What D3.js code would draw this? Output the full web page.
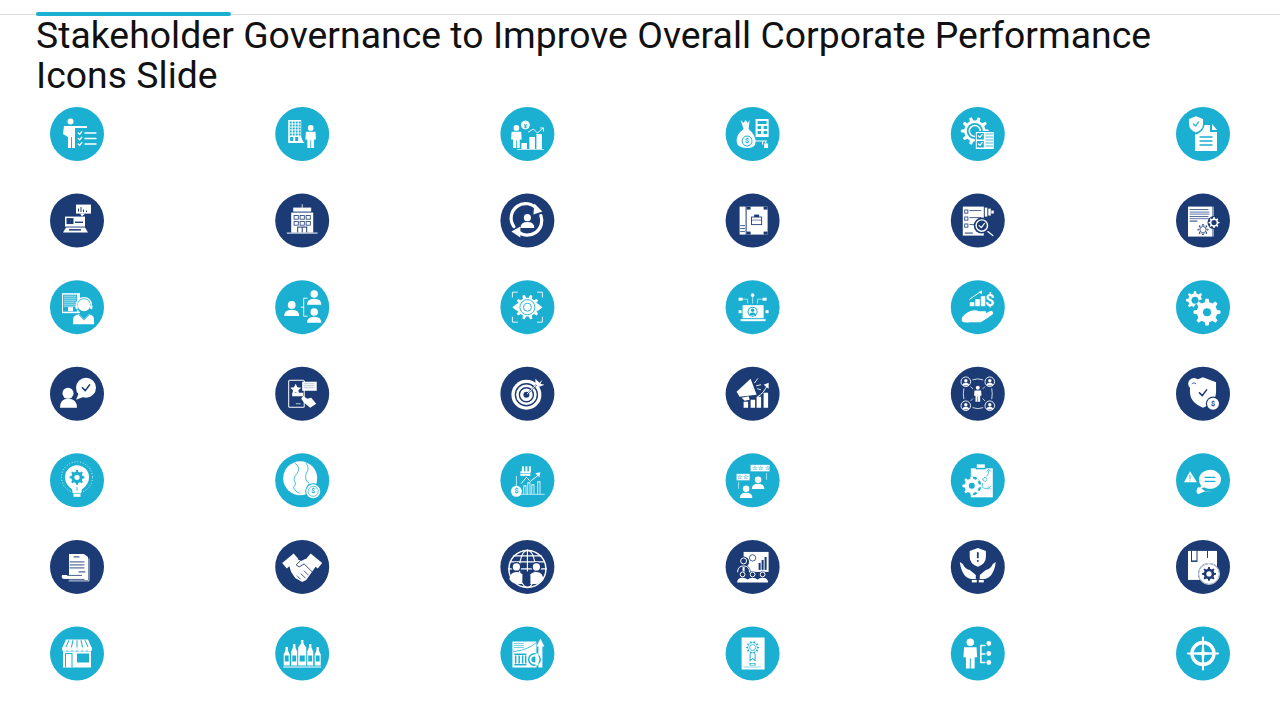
<!DOCTYPE html>
<html>
<head>
<meta charset="utf-8">
<script src="https://cdn.jsdelivr.net/npm/d3@7"></script>
<style>
  html, body { margin: 0; background: #fff; }
  svg { display: block; }
</style>
</head>
<body>
<svg id="slide" width="1280" height="720"></svg>
<script>
// Slide text and grid contents
const titleLines = [
  'Stakeholder Governance to Improve Overall Corporate Performance',
  'Icons Slide'
];
const columns = [0, 1, 2, 3, 4, 5];
const rows = [0, 1, 2, 3, 4, 5, 6];
const rowTones = ['light', 'dark', 'light', 'dark', 'light', 'dark', 'light'];
const iconRows = [
  ['presenter', 'officeWorker', 'yenGrowth', 'moneyKey', 'gearChecklist', 'shieldDoc'],
  ['laptopChart', 'building', 'userCycle', 'caseBook', 'docSearch', 'docGears'],
  ['headsetAgent', 'orgChart', 'gearEye', 'laptopNodes', 'handGrowth', 'twoGears'],
  ['userChat', 'phoneReview', 'target', 'megaphone', 'peopleRing', 'shieldCoin'],
  ['bulbGear', 'earthCoin', 'factoryChart', 'ratedUsers', 'clipboardPlan', 'warnChat'],
  ['scrollDoc', 'handshake', 'globePeople', 'boardTalk', 'handsShield', 'boxGear'],
  ['shop', 'bottles', 'boardArrow', 'certificate', 'personTree', 'crosshair']
];

const W = '#fff';
const tones = { light: '#1bafd2', dark: '#1c3b74' };

const x = d3.scalePoint().domain(columns).range([77, 1203]);
const y = d3.scalePoint().domain(rows).range([134, 653.5]);

// Small drawing helpers, icon coords are relative to the circle centre
const rect = (g, x0, y0, w, h, f = W, rx = 0) => g.append('rect')
  .attr('x', x0).attr('y', y0).attr('width', w).attr('height', h).attr('rx', rx).attr('fill', f);
const dot = (g, cx, cy, r, f = W) => g.append('circle')
  .attr('cx', cx).attr('cy', cy).attr('r', r).attr('fill', f);
const ring = (g, cx, cy, r, sw = 1, s = W, dash = null) => g.append('circle')
  .attr('cx', cx).attr('cy', cy).attr('r', r).attr('fill', 'none')
  .attr('stroke', s).attr('stroke-width', sw).attr('stroke-dasharray', dash);
const fillP = (g, d, f = W) => g.append('path').attr('d', d).attr('fill', f);
const lineP = (g, d, sw = 1.2, s = W) => g.append('path').attr('d', d).attr('fill', 'none')
  .attr('stroke', s).attr('stroke-width', sw).attr('stroke-linecap', 'round').attr('stroke-linejoin', 'round');
const label = (g, cx, cy, txt, size, f = W) => g.append('text')
  .attr('x', cx).attr('y', cy).attr('text-anchor', 'middle').attr('dominant-baseline', 'central')
  .attr('font-family', 'Roboto').attr('font-weight', 700).attr('font-size', size).attr('fill', f).text(txt);

function gear(g, cx, cy, r, f = W, hole = r * 0.4, holeFill = null, teeth = 8) {
  const pts = [];
  for (let i = 0; i < teeth; i++) {
    const a = (i / teeth) * Math.PI * 2;
    const step = Math.PI / teeth;
    [[-0.55, 0.76], [-0.3, 1], [0.3, 1], [0.55, 0.76]].forEach(([k, m]) => {
      pts.push([cx + Math.cos(a + k * step) * r * m, cy + Math.sin(a + k * step) * r * m]);
    });
  }
  fillP(g, d3.line()(pts) + 'Z', f);
  if (holeFill) dot(g, cx, cy, hole, holeFill);
}
function bust(g, cx, cy, s = 1, f = W) {
  dot(g, cx, cy - 3.4 * s, 3.1 * s, f);
  fillP(g, `M${cx - 6 * s},${cy + 5.5 * s} Q${cx - 6 * s},${cy + 0.4 * s} ${cx},${cy + 0.4 * s} Q${cx + 6 * s},${cy + 0.4 * s} ${cx + 6 * s},${cy + 5.5 * s}Z`, f);
}
function person(g, cx, top, h, f = W) {
  const u = h / 24;
  dot(g, cx, top + 3 * u, 3 * u, f);
  fillP(g, `M${cx - 5 * u},${top + 7 * u} H${cx + 5 * u} L${cx + 5.5 * u},${top + 15 * u} H${cx + 3.5 * u} V${top + 24 * u} H${cx + 0.4 * u} V${top + 16 * u} H${cx - 0.4 * u} V${top + 24 * u} H${cx - 3.5 * u} V${top + 15 * u} H${cx - 5.5 * u}Z`, f);
}
const check = (g, cx, cy, s, c = W, sw = 1.2) => lineP(g, `M${cx - s},${cy} L${cx - s * 0.2},${cy + s * 0.8} L${cx + s},${cy - s * 0.8}`, sw, c);
const shield = (g, cx, cy, r, f = W) => fillP(g, `M${cx},${cy - r} L${cx + r * 0.9},${cy - r * 0.65} V${cy} Q${cx + r * 0.9},${cy + r * 0.75} ${cx},${cy + r * 1.1} Q${cx - r * 0.9},${cy + r * 0.75} ${cx - r * 0.9},${cy} V${cy - r * 0.65}Z`, f);
const rows3 = (g, x0, ys, w, sw, c) => ys.forEach(v => lineP(g, `M${x0},${v} H${x0 + w}`, sw, c));

// One drawing function per icon, second argument is the circle colour
const icons = {
  presenter(g) {
    dot(g, -6.5, -12.5, 3);
    fillP(g, 'M-13,-8 L10,-8 V-6 L-2,-6 V14 H-5 V3 H-6 V14 H-9 V3 L-14,0 Z');
    [-1, 4.5, 10].forEach(v => {
      check(g, 3, v, 1.8);
      lineP(g, `M8,${v} H19`, 1.4);
    });
  },
  officeWorker(g, bg) {
    fillP(g, 'M-14,-14 H-1 V3 Q1,9 3,9 H-14Z');
    for (let i = 0; i < 4; i++) for (let j = 0; j < 5; j++) rect(g, -12.5 + i * 3, -12.5 + j * 3, 2, 2, bg);
    rect(g, -12, 3, 3, 4, bg); rect(g, -7, 3, 3, 4, bg);
    person(g, 8.5, -9, 23);
  },
  yenGrowth(g, bg) {
    person(g, -11, -9, 23);
    ring(g, -2, -9, 4, 1);
    dot(g, -2, -9, 3.6);
    label(g, -2, -9, '¥', 6, bg);
    lineP(g, 'M1,-2 L6,-5 L10,-1 L16,-6', 0.9);
    lineP(g, 'M13,-6 H16 V-3', 0.9);
    [[-6, 9, 6], [2, 3, 12], [9, 0, 15]].forEach(([a, b, h]) => rect(g, a, b, 5.5, h));
    lineP(g, 'M-10,15.5 H16', 0.7);
  },
  moneyKey(g, bg) {
    fillP(g, 'M-12,-14 L-9,-11 L-7,-14 L-5,-11 L-3,-14 L-4,-5 Q3,1 3,8 Q3,14 -6,14 Q-16,14 -16,7 Q-16,0 -9,-5Z');
    rect(g, 3, -15, 13, 18);
    rect(g, 5, -13, 9, 3, bg);
    [[5, -8], [11, -8], [5, -3], [11, -3]].forEach(([a, b]) => rect(g, a, b, 3.5, 3, bg));
    ring(g, -5.5, 7, 5, 1, bg);
    label(g, -5.5, 7, '$', 7, bg);
    lineP(g, 'M0,7 H14 M10,7 V10 M13,7 V9', 1.2);
    rect(g, 11.5, 9.5, 4, 4.5);
  },
  gearChecklist(g, bg) {
    gear(g, -3, -3, 14, W, 8, bg, 10);
    ring(g, -3, -3, 5.5, 1.5);
    rect(g, -3, -3, 20, 19, bg);
    rect(g, -2, -2, 18, 17);
    rect(g, -1, -1, 7, 6.5, bg); rect(g, -1, 7, 7, 6.5, bg);
    check(g, 2.5, 2, 1.8); check(g, 2.5, 10, 1.8);
    rows3(g, 8, [0, 3, 6, 9, 12], 7, 0.8, bg);
  },
  shieldDoc(g, bg) {
    fillP(g, 'M-8,-9 H7 V-2 H14 V17 H-8Z');
    fillP(g, 'M9,-10 L14,-4 H9Z');
    shield(g, -7, -10, 9.5, bg);
    shield(g, -7, -10, 7.8);
    check(g, -7, -10, 2.6, bg);
    rows3(g, -3, [3, 7, 11], 12, 1.4, bg);
  },
  laptopChart(g, bg) {
    rect(g, -1, -16, 15, 9);
    fillP(g, 'M3,-7 H8 L5,-4Z');
    [[1, -12, 3], [3.5, -13.5, 5], [6, -11, 2.5], [9, -10, 1.5]].forEach(([a, b, h]) => rect(g, a, b, 1, h, bg));
    rect(g, -12, -4, 20, 10);
    rect(g, -10.5, -2.5, 7, 6, bg);
    rect(g, -2, 1, 8, 1.4, bg);
    fillP(g, 'M-11,7 H8 L11,12 H-14Z');
    rect(g, -8, 8.5, 12, 1.5, bg);
  },
  building(g, bg) {
    lineP(g, 'M0,-16 V-12', 0.8);
    rect(g, -9, -13, 18, 4);
    rect(g, -11, -8, 22, 20);
    [-9, -3, 3].forEach(a => [-6, 0].forEach(b => {
      rect(g, a + 0.5, b + 0.5, 5, 4.5, bg);
      rect(g, a + 1.3, b + 1.3, 3.4, 2.9);
    }));
    rect(g, -5, 6, 10, 6, bg);
    rect(g, -4, 7, 3.5, 5); rect(g, 0.5, 7, 3.5, 5);
    lineP(g, 'M-15,12.5 H15', 1);
  },
  userCycle(g) {
    lineP(g, 'M-13.5,6 A14.5,14.5 0 0 1 10,-11', 3.2);
    fillP(g, 'M7,-17 L15,-9 L6,-6Z');
    lineP(g, 'M13.5,-5 A14.5,14.5 0 0 1 -9,11.5', 3.2);
    fillP(g, 'M-7,17 L-16,11 L-7,6Z');
    bust(g, 0, 1, 1.15);
  },
  caseBook(g, bg) {
    rect(g, -13, -14, 6, 28);
    rect(g, -6, -14, 21, 28);
    [[-6, -14, 4, 3], [11, -14, 4, 3], [-6, 11, 4, 3], [11, 11, 4, 3]].forEach(([a, b, w, h]) => rect(g, a, b, w, h, bg));
    rect(g, -1.5, -4, 11, 8.5, bg); rect(g, -0.6, -3.1, 9.2, 6.7);
    rect(g, 1.5, -6, 5, 2.4, bg); lineP(g, 'M-1,-0.5 H9', 0.6, bg);
    rows3(g, -12, [5, 8, 11], 4, 0.8, bg);
  },
  docSearch(g, bg) {
    rect(g, -15, -14, 21, 29);
    [-11, -4, 3].forEach(v => {
      rect(g, -13.5, v, 4, 4, bg); rect(g, -12.7, v + 0.8, 2.4, 2.4);
      lineP(g, `M-8,${v + 1} H3`, 0.8, bg);
    });
    rect(g, 7, -13, 2.5, 9); rect(g, 10.5, -12, 2.5, 7); rect(g, 13.5, -10, 2.5, 3);
    dot(g, 4, 5, 8, bg); dot(g, 4, 5, 6.4); dot(g, 4, 5, 5, bg);
    check(g, 4, 5, 2.6);
    lineP(g, 'M10,11 L15,15', 1.2);
    rect(g, -13, 12, 8, 1, bg);
  },
  docGears(g, bg) {
    rect(g, -15, -14, 24, 30);
    rect(g, 9.5, -14, 1, 30);
    rows3(g, -13, [-11, -4], 18, 0.8, bg);
    [-8.5, -6.5, -2].forEach(v => lineP(g, `M-13,${v} H6`, 1.2, '#7f93bd'));
    lineP(g, 'M-13,0.5 H-6', 1, bg);
    dot(g, 0, 9, 6.5, W);
    gear(g, 0, 9, 5.5, bg, 2.6, W); ring(g, 0, 9, 3.8, 0.8, W);
    dot(g, 11, 2, 6.5, bg);
    gear(g, 11, 2, 5.5, W, 2.6, bg);
  },
  headsetAgent(g, bg) {
    rect(g, -15, -14, 18, 20, W);
    rect(g, -14, -12.5, 14, 17, bg);
    rows3(g, -13, [-11, -9, -7, -5, -3, -1], 12, 0.7, W);
    rect(g, -9, 0, 5, 4);
    dot(g, 7, -2, 7.5, bg); dot(g, 7, -2, 6.2);
    lineP(g, 'M-0.5,-2 A7.5,7.5 0 0 1 14.5,-2', 1.4);
    rect(g, -1.5, -2, 2.2, 4, W, 1); rect(g, 13.2, -2, 2.2, 4, W, 1);
    lineP(g, 'M0,2 Q1,5 5,5', 0.7, bg);
    fillP(g, 'M-4,17 V12 Q-4,8 2,7 L7,12 L12,7 Q17,8 17,12 V17Z');
    lineP(g, 'M2,8 L7,13 L12,8', 0.8, bg);
  },
  orgChart(g) {
    bust(g, -10.5, 2, 1.25);
    bust(g, 12, -9, 1.2);
    bust(g, 12, 9, 1.2);
    lineP(g, 'M5,-9 H1.5 V9 H5 M1.5,0 H-1', 0.9);
  },
  gearEye(g, bg) {
    lineP(g, 'M-15,-10 V-15 H-10 M10,-15 H15 V-10 M15,10 V15 H10 M-10,15 H-15 V10', 0.9);
    gear(g, 0, 0, 12.5, W, 0, null, 10);
    fillP(g, 'M-15,0 Q0,-14 15,0 Q0,14 -15,0Z');
    ring(g, 0, 0, 7.5, 0.9, bg);
    ring(g, 0, 0, 4, 0.9, bg);
  },
  laptopNodes(g, bg) {
    rect(g, -10, -2, 21, 13);
    rect(g, -12, 12, 25, 2);
    dot(g, 0, 4.5, 5, bg); dot(g, 0, 4.5, 4);
    bust(g, 0, 5, 0.55, bg);
    dot(g, 0, -12, 1.8); rect(g, -14, -9.5, 4, 3); rect(g, 10, -9.5, 4, 3);
    rect(g, -14, 3, 3, 3); rect(g, 13, 3, 3, 3);
    lineP(g, 'M0,-12 V-4 M-10,-8 H-5 V-4 M10,-8 H5 V-4', 0.6);
  },
  handGrowth(g) {
    [[-8, -5, 4.5], [-2.5, -8, 4.5], [3, -11, 4.5]].forEach(([a, b, w]) => rect(g, a, b, w, -1 - b));
    lineP(g, 'M-8,-8 L2,-15', 1);
    fillP(g, 'M1,-15 L4,-17 L4,-13Z');
    label(g, 12, -7, '$', 16);
    fillP(g, 'M-16,14 Q-17,9 -10,5 Q-4,2 1,4 L8,4 Q9,6 6,7 L4,8 L12,4 Q16,3 15,7 Q8,12 3,15 H-8 Q-13,16 -16,14Z');
  },
  twoGears(g, bg) {
    gear(g, -8, -7, 9, W, 3.5, bg, 8);
    dot(g, 4, 5, 14, bg);
    gear(g, 4, 5, 13.5, W, 4, bg, 8);
  },
  userChat(g, bg) {
    dot(g, -9, -0.5, 5.5);
    fillP(g, 'M-17,14 Q-17,5 -9,5 Q0,5 0,14Z');
    dot(g, 9, -6, 10);
    fillP(g, 'M2,-1 L-1,6 L7,3Z');
    check(g, 9, -6, 3.6, bg, 1.6);
  },
  phoneReview(g, bg) {
    rect(g, -14, -14, 16.5, 28, W, 1.5);
    rect(g, -13, -13, 14.5, 26, bg);
    fillP(g, 'M-6.5,-10 L-4.8,-6.6 L-1,-6 L-3.8,-3.4 L-3.2,0 L-6.5,-1.6 L-9.8,0 L-9.2,-3.4 L-12,-6 L-8.2,-6.6Z');
    rect(g, -10, -1, 11, 3.5);
    rect(g, 0, -12, 14.5, 9);
    rows3(g, 2, [-10, -8, -6], 10, 0.6, '#8fa1c4');
    lineP(g, 'M-6,10 H-2', 0.7);
    fillP(g, 'M1,2 L5,5 L9,4 L14,10 L8,14 L2,9 L-1,5Z');
  },
  target(g, bg) {
    dot(g, -1, 1, 15);
    ring(g, -1, 1, 11, 1.4, bg);
    ring(g, -1, 1, 7, 1.4, bg);
    dot(g, -1, 1, 3, bg);
    lineP(g, 'M0,0 L11,-11', 1.6, bg);
    lineP(g, 'M0,0 L11,-11', 1);
    fillP(g, 'M8,-15 L12,-11 L15,-14 L13,-10 L17,-9 L12,-7 L8,-10Z');
  },
  megaphone(g) {
    fillP(g, 'M-16,-2 L-13,3 L4,1 L-2,-15Z');
    fillP(g, 'M-11,4 L-4,2.5 L-3,6 L-8,7Z');
    lineP(g, 'M2,-11 L5,-15 M4,-8 L8,-9 M5,-5 L8,-4', 0.9);
    lineP(g, 'M5,3 Q11,0 15,-9', 1);
    fillP(g, 'M11,-9 L16,-11 L16,-5Z');
    [[-9, 8, 6], [-2, 6, 8], [4, 3, 11], [11, -1, 15]].forEach(([a, b, h]) => rect(g, a, b, 4.5, h));
  },
  peopleRing(g) {
    [[-12, -12], [12, -12], [-12, 12], [12, 12]].forEach(([a, b]) => {
      ring(g, a, b, 4.8, 0.9);
      bust(g, a, b + 0.8, 0.55);
    });
    person(g, 0, -8, 16);
    lineP(g, 'M-5,-14 Q0,-16 5,-14 M-5,14 Q0,16 5,14 M-14,-5 Q-15,0 -14,5 M14,-5 Q15,0 14,5', 0.8);
    lineP(g, 'M-7,-7 L-5,-5 M7,-7 L5,-5 M-7,7 L-5,5 M7,7 L5,5', 0.7);
  },
  shieldCoin(g, bg) {
    shield(g, 0, -2, 14.5);
    check(g, 0, -1, 3.6, bg, 1.6);
    dot(g, -9, -10, 5.8);
    lineP(g, 'M-11,-10 A2.5,2.5 0 0 1 -7,-10', 0.8, bg);
    dot(g, 10, 10, 7.2, bg); dot(g, 10, 10, 6);
    label(g, 10, 10, '$', 7, bg);
  },
  bulbGear(g, bg) {
    ring(g, 0, -3, 15.5, 0.8, W, '1 1.8');
    fillP(g, 'M-12,-3 A12,12 0 1 1 12,-3 Q12,4 5,9 L4,13 H-4 L-5,9 Q-12,4 -12,-3Z');
    rect(g, -3.5, 13.5, 7, 3);
    gear(g, 0, -3, 7.5, bg, 2.6, W);
    lineP(g, 'M0,7 V10', 0.8, bg);
  },
  earthCoin(g, bg) {
    dot(g, -2, -2, 17);
    lineP(g, 'M-7,-17 Q-1,-13 -5,-7 Q-10,-2 -7,2 Q-6,6 -9,7 Q-7,11 -3,13', 0.8, bg);
    lineP(g, 'M4,-17 Q8,-12 4,-7 Q2,0 7,3 L5,7', 0.8, bg);
    dot(g, 11, 11, 8, bg); dot(g, 11, 11, 7); ring(g, 11, 11, 5, 0.7, bg);
    label(g, 11, 11, '$', 6.5, bg);
  },
  factoryChart(g, bg) {
    [-5.5, -2, 1.5].forEach(a => rect(g, a, -14, 2, 6));
    rect(g, -7, -9, 10, 2); rect(g, -7, -6.5, 10, 2);
    lineP(g, 'M-11,-4 V14 M-8,14 H17', 0.7);
    lineP(g, 'M-6,3 L-1,-3 L3,1 L12,-6', 1);
    fillP(g, 'M8,-7 L13,-8 L12,-3Z');
    [[-4, 5, 9], [0, 2, 12], [4, 4, 10], [10, 1, 13]].forEach(([a, b, h]) => { rect(g, a, b, 3, h); rect(g, a + 0.8, b + 1, 1.4, h - 1, bg); });
    dot(g, -11, 11, 5.5);
    label(g, -11, 11, '$', 7, bg);
  },
  ratedUsers(g, bg) {
    rect(g, -2, -15.5, 19, 6.5);
    [0.5, 7, 13.5].forEach(a => label(g, a + 1, -12, '☆', 5.5, bg));
    rect(g, -16, -6.5, 13, 6.5);
    [-13, -7].forEach(a => label(g, a, -3, '☆', 5.5, bg));
    bust(g, 5.5, 3, 1.05);
    bust(g, -6.5, 12, 1.05);
    lineP(g, 'M-14,2 V8 M14,-7 V-1', 0.6);
  },
  clipboardPlan(g, bg) {
    fillP(g, 'M-7,-12 H15 V17 H-7Z');
    rect(g, -2, -16, 10, 5, bg); rect(g, -1, -16, 8, 3.5);
    lineP(g, 'M-2,-3 V1 M5,-1 A2,2 0 1 1 5,-0.9 M5,3 Q3,8 7,8 H10', 0.7, bg);
    lineP(g, 'M9,-4 Q11,-6 11,-10 M9,-9 L11,-11 L13,-9', 0.7, bg);
    lineP(g, 'M10,6 L13,9 M13,6 L10,9', 0.7, bg);
    dot(g, -6, 5.5, 9.5, bg);
    gear(g, -6, 5.5, 9.5, W, 3, bg);
  },
  warnChat(g, bg) {
    fillP(g, 'M-13,-9 L-6,2 H-19Z');
    lineP(g, 'M-13,-5 V-1.5', 0.9, bg);
    dot(g, -13, 0.4, 0.5, bg);
    fillP(g, 'M-5,7 Q-8,11 -5,14 L2,11 Q8,13 12,9Z');
    dot(g, 7, -1, 12.5, bg);
    fillP(g, 'M-4,-1 A11,9.5 0 1 1 1,7 L-3,9 L-2,5 Q-4,3 -4,-1Z');
    rows3(g, 2, [-3, 1], 10, 1.3, bg);
  },
  scrollDoc(g, bg) {
    fillP(g, 'M-8,-13 H7 L11,-10 V13 H-8Z');
    rect(g, 9.5, -9, 1, 0.1);
    lineP(g, 'M12,-8 V14 H-8', 0.8);
    rows3(g, -3, [-10], 5, 1, bg);
    rows3(g, -7, [-5, -2, 1], 14, 0.9, bg);
    rows3(g, 2, [5], 6, 1, bg);
    fillP(g, 'M-15,8 H7 V12 H-13 Q-16,12 -15,8Z');
    lineP(g, 'M-15,12.5 H7', 0.8, bg);
    rect(g, -10, 8, 15, 0.8, bg);
  },
  handshake(g, bg) {
    rect(g, -3.5, -7.5, 7, 15, W).attr('transform', 'translate(-12,-6) rotate(50)');
    rect(g, -3.5, -7.5, 7, 15, W).attr('transform', 'translate(12,-6) rotate(-50)');
    fillP(g, 'M-13,-1 L-5,-8 L-1,-6 L3,-8 L10,-8 L14,-1 L4,13 L0,15 L-7,11 L-11,5Z');
    lineP(g, 'M-2,-6 L-6,-2 L-3,0 L2,-3 L10,5', 0.9, bg);
    lineP(g, 'M6,8 L2,4 M3,11 L-1,7 M-2,12 L-5,9', 0.8, bg);
  },
  globePeople(g, bg) {
    ring(g, 0, 2, 18.5, 1.5);
    g.append('ellipse').attr('cy', 2).attr('rx', 8).attr('ry', 18.5).attr('fill', 'none').attr('stroke', W).attr('stroke-width', 1.1);
    lineP(g, 'M0,-17 V4 M-17,-5 H17 M-14,-11 H14 M-19,2 H19', 1.1);
    [-11, 9].forEach(a => {
      dot(g, a, 0, 5, bg); dot(g, a, 0, 3.6);
    });
    fillP(g, 'M-18,12 Q-17,5 -11,5 Q-6,5 -4,9 L-5,17 H-11 Q-16,16 -18,12Z');
    fillP(g, 'M16,12 Q15,5 9,5 Q4,5 2,9 L3,17 H9 Q14,16 16,12Z');
    rect(g, -5, 8, 8, 8, bg);
  },
  boardTalk(g, bg) {
    rect(g, -9, -15, 25, 20);
    ring(g, 0, -9, 3.2, 0.8, bg);
    [[6, -4, 7], [9, -7, 10], [12, -10, 13]].forEach(([a, b, h]) => rect(g, a, b, 2, h, bg));
    dot(g, -9, -5, 5.5, bg); ring(g, -9, -6, 3, 1);
    fillP(g, 'M-16,6 Q-16,-2 -9,-2 Q-2,-2 -2,6Z', bg);
    lineP(g, 'M-15,5 Q-15,-1 -9,-1 Q-3,-1 -3,5', 1);
    rect(g, -10, 0, 2, 5);
    [-10, 0, 10].forEach(a => { dot(g, a, 7.5, 3.2, bg); ring(g, a, 7.5, 2.4, 1); });
    fillP(g, 'M-15.5,15.5 Q-15.5,10.8 -10,10.8 Q-7,10.8 -5,12.5 Q-3,10.8 0,10.8 Q3,10.8 5,12.5 Q7,10.8 10,10.8 Q15.5,10.8 15.5,15.5Z');
  },
  handsShield(g, bg) {
    shield(g, 0, -10, 9);
    lineP(g, 'M0,-14 V-9.5', 1.8, bg);
    dot(g, 0, -6, 1, bg);
    fillP(g, 'M-18,-5 L-15,-3 Q-13,2 -8,3 L-2,8 V12 H-7 Q-16,10 -18,-5Z');
    fillP(g, 'M18,-5 L15,-3 Q13,2 8,3 L2,8 V12 H7 Q16,10 18,-5Z');
    rect(g, -6, 13, 5, 2.5); rect(g, 1, 13, 5, 2.5);
  },
  boxGear(g, bg) {
    rect(g, -15, -16, 29, 29);
    rect(g, -12, -16, 6.5, 11, bg); rect(g, -11, -16, 4.5, 9.5);
    rect(g, 4, -16, 1, 7, bg);
    dot(g, 6, 7, 11, bg); ring(g, 6, 7, 10.5, 0.8);
    dot(g, 6, 7, 10, W);
    gear(g, 6, 7, 7, bg, 2.6, W);
  },
  shop(g, bg) {
    fillP(g, 'M-11,-14 H11 L15,-5 H-15Z');
    [-9, -4.5, 0, 4.5, 9].forEach(a => lineP(g, `M${a * 0.9},-13 L${a * 1.25},-6`, 1, bg));
    [-12.5, -7.5, -2.5, 2.5, 7.5, 12.5].forEach(a => dot(g, a, -4.5, 2.5));
    rect(g, -14, -2, 28, 16);
    rect(g, -12, -0.5, 7.5, 14.5, bg); rect(g, -11, 0.5, 5.5, 13.5);
    rect(g, 0, 0, 12, 9, bg);
  },
  bottles(g, bg) {
    [[-15.5, -3, 6], [-8, -6, 6], [0, -10, 8], [8, -6, 6], [15.5, -3, 6]].forEach(([a, b, w]) => {
      rect(g, a - 1.2, b - 3.5, 2.4, 5);
      fillP(g, `M${a - 1.2},${b} H${a + 1.2} L${a + w / 2},${b + 4} V12 H${a - w / 2} V${b + 4}Z`);
      rect(g, a - w * 0.32, 2, w * 0.64, 6, bg);
    });
    rect(g, -19, 13, 38, 1);
  },
  boardArrow(g, bg) {
    rect(g, -15, -12, 24, 26);
    rect(g, 11, -8, 4, 22);
    fillP(g, 'M13,-15 L17,-7 H9Z');
    rows3(g, -13, [-10, -8, -6], 9, 0.6, bg);
    lineP(g, 'M-14,-2 Q0,-3 9,-11', 0.8, bg);
    rect(g, -13, 0, 12, 1.5, bg);
    [-12.5, -9, -5.5, -2.5].forEach(a => rect(g, a, 2, 1.5, 8, bg));
    rect(g, -13, 10.5, 12, 1.5, bg);
    dot(g, 7, 6, 6.5, bg); dot(g, 7, 6, 5); dot(g, 7, 6, 3, bg);
    rect(g, 8, 0, 3, 12, W);
  },
  certificate(g, bg) {
    rect(g, -11, -16, 23, 32);
    gear(g, 0, -6, 6.5, bg, 4.5, W, 10);
    ring(g, 0, -6, 3, 0.8, bg);
    fillP(g, 'M-3,0 H3 V8 L0,5.5 L-3,8Z', bg);
    fillP(g, 'M-2,0 H2 V6 L0,4.5 L-2,6Z');
    rect(g, -3, 9.5, 6, 2.5, bg); rect(g, -2, 10.2, 4, 1.2);
    lineP(g, 'M-8,13.5 H8', 0.5, bg);
  },
  personTree(g) {
    person(g, -7.5, -15, 30);
    lineP(g, 'M3,-8 H7 M3,-8 V9 H7 M3,0.5 H7', 1.6);
    [-10, 0, 9].forEach(v => dot(g, 11, v, 2.4));
  },
  crosshair(g) {
    ring(g, 0, 0, 11, 3.4);
    fillP(g, 'M0,-17 L1.6,0 L0,17 L-1.6,0Z');
    fillP(g, 'M-16,0 L0,-1.6 L16,0 L0,1.6Z');
    lineP(g, 'M0,-16 V16 M-15,0 H15', 2);
  }
};

const svg = d3.select('#slide');

// Top rule and accent bar
svg.append('rect').attr('x', 0).attr('y', 14).attr('width', 1280).attr('height', 1).attr('fill', '#dcdcdc');
svg.append('rect').attr('x', 36).attr('y', 12).attr('width', 195).attr('height', 4).attr('rx', 2).attr('fill', tones.light);

svg.selectAll('text.title')
  .data(titleLines)
  .enter().append('text')
  .attr('class', 'title')
  .attr('x', 36)
  .attr('y', (d, i) => 47.5 + i * 40)
  .attr('font-family', 'Roboto')
  .attr('font-size', 37.3)
  .attr('letter-spacing', 0.05)
  .attr('fill', '#111')
  .text(d => d);

// Icon grid
const rowGroups = svg.selectAll('g.row')
  .data(rows)
  .enter().append('g')
  .attr('class', 'row')
  .attr('transform', r => `translate(0,${y(r)})`);

rowGroups.each(function (r) {
  const tone = tones[rowTones[r]];
  d3.select(this).selectAll('g.icon')
    .data(columns)
    .enter().append('g')
    .attr('class', 'icon')
    .attr('transform', c => `translate(${x(c)},0)`)
    .each(function (c) {
      const g = d3.select(this);
      g.append('circle').attr('r', 27).attr('fill', tone);
      icons[iconRows[r][c]](g, tone);
    });
});
</script>
</body>
</html>
